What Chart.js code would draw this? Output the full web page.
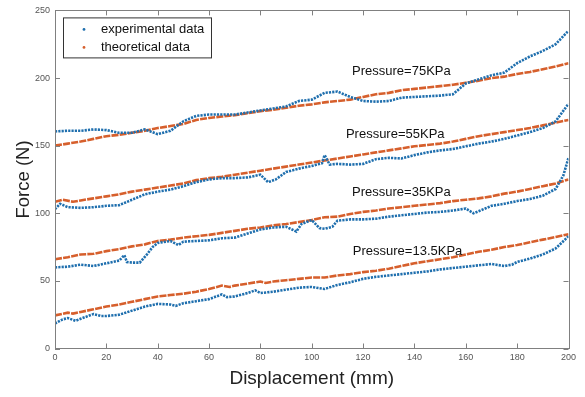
<!DOCTYPE html>
<html>
<head>
<meta charset="utf-8">
<script src="https://cdn.jsdelivr.net/npm/chart.js@4.4.1/dist/chart.umd.min.js"></script>
<style>
  html, body { margin: 0; padding: 0; background: #fff; }
  #wrap { width: 585px; height: 397px; }
</style>
</head>
<body>
<div id="wrap"><canvas id="chart" width="585" height="397"></canvas></div>
<script>
// axis ticks
const xTicks = [0, 20, 40, 60, 80, 100, 120, 140, 160, 180, 200];
const yTicks = [0, 50, 100, 150, 200, 250];

// series: [displacement mm, force N]
const exp75 = [[0,160.5],[5,161],[10,161],[15,162],[20,161.5],[25,159.5],[30,159.5],[35,162],[40,158.5],[45,161],[50,168],[55,172],[60,173],[65,173],[70,173],[75,174.5],[80,176],[85,177.5],[90,179],[95,183],[100,184],[105,189],[110,190],[115,186],[120,183],[125,182.5],[130,183],[135,185.5],[140,186],[145,186.5],[150,187],[155,188],[160,196],[165,199],[170,202],[175,204],[180,211],[185,216],[190,220],[195,225],[200,235]];
const theo75 = [[0,150],[5,151.5],[10,153],[15,155],[20,157],[25,158],[30,159.5],[35,161],[40,163],[45,164.5],[50,166],[55,169],[60,170.5],[65,171.5],[70,172.5],[75,174],[80,175.5],[85,176.5],[90,178],[95,179.5],[100,180.5],[105,182],[110,183],[115,184],[120,186],[125,188],[130,189],[135,191],[140,192],[145,193],[150,194],[155,195],[160,196.5],[165,198],[170,200],[175,201],[180,203],[185,204.5],[190,206.5],[195,208.5],[200,211]];
const exp55 = [[0,103],[2,107],[5,104.5],[10,104],[15,104.5],[20,105.5],[25,106],[30,110],[35,114],[40,116],[45,117.5],[50,120],[55,123],[60,125],[65,126],[70,126],[75,126.5],[80,128.5],[83,123],[86,125],[90,130.5],[95,133],[100,135],[104,137],[105,143],[107,136],[110,136.5],[115,136],[120,136.5],[125,140],[130,141],[135,140.5],[140,143],[145,145],[150,146.5],[155,147.5],[160,149.5],[165,151.5],[170,153],[175,155],[180,157.5],[185,160],[190,163],[195,168],[200,181]];
const theo55 = [[0,108.5],[3,110],[7,108.5],[10,109.5],[15,111],[20,112.5],[25,114],[30,116],[35,117.5],[40,119],[45,120.5],[50,122],[55,124.5],[60,126],[65,127],[70,128.5],[75,130],[80,131.5],[85,133],[90,134.5],[95,136],[100,137.5],[105,139],[110,140.5],[115,142],[120,143.5],[125,145],[130,146.5],[135,148],[140,149.5],[145,150.5],[150,151.5],[155,153],[160,155],[165,157],[170,158.5],[175,160],[180,161.5],[185,163],[190,165],[195,167],[200,169]];
const exp35 = [[0,60],[5,60.5],[10,62],[15,61],[20,63],[25,65],[27,69],[28,64],[30,63.5],[33,63.5],[36,70],[38,75],[40,78],[45,79.5],[48,76.5],[50,79],[55,79.5],[60,80],[65,81.5],[70,82],[75,85],[80,88],[85,89.5],[90,90],[94,86.5],[96,92],[100,95],[103,89],[105,88.5],[108,90],[110,94.5],[115,95.5],[120,95.5],[125,96],[130,97.5],[135,98.5],[140,99.5],[145,100.5],[150,101],[155,102],[160,103.5],[163,100],[165,101.5],[170,105.5],[175,107],[180,109],[185,110.5],[190,113],[195,118],[198,128],[200,141]];
const theo35 = [[0,66],[5,67.5],[10,69.5],[15,70],[20,72],[25,73.5],[30,75.5],[35,77],[40,79.5],[45,80.5],[50,82],[55,83],[60,84],[65,85.5],[70,87],[75,88.5],[80,89.5],[85,91],[90,92],[95,93.5],[100,95],[105,97],[110,97.5],[115,99.5],[120,101],[125,102],[130,103.5],[135,104.5],[140,105.5],[145,106.5],[150,107.5],[155,109],[160,110],[165,111],[170,112.5],[175,114.5],[180,116],[185,118],[190,120],[195,122],[200,125]];
const exp13 = [[0,18.5],[3,21.5],[5,22.5],[8,20.5],[10,22],[15,25.5],[18,24],[20,24],[25,25],[30,28],[35,31],[40,33],[45,32.5],[47,31.5],[50,33.5],[55,35],[60,36.5],[65,40],[67,38],[70,38.5],[75,41],[78,43],[80,41],[85,42],[90,43.5],[95,45],[100,45.5],[105,44],[110,47],[115,49],[120,51.5],[125,53],[130,54],[135,55],[140,56],[145,57],[150,58.5],[155,59.5],[160,60.5],[165,61.5],[170,62.5],[175,61],[178,62],[180,64],[185,66.5],[190,69.5],[195,74],[200,83]];
const theo13 = [[0,24.5],[5,26.5],[7,25.8],[10,27],[15,29],[20,31],[25,32.5],[30,34.5],[35,36.5],[40,38.5],[45,39.5],[50,40.5],[55,42],[60,44],[65,46.5],[68,45.5],[70,46.5],[75,48],[80,49.5],[82,48.5],[85,49.5],[90,50.5],[95,51.5],[100,52.5],[105,52.5],[110,54],[115,55],[120,56.5],[125,57.5],[130,59],[135,61],[140,63],[145,64.5],[150,66],[155,67.5],[160,69.5],[165,71.5],[170,73],[175,75],[180,76.5],[185,78.5],[190,80.5],[195,82.5],[200,84.5]];

const pressureLabels = ["Pressure=75KPa", "Pressure=55KPa", "Pressure=35KPa", "Pressure=13.5KPa"];
const labelX = [115.7, 113.3, 115.7, 116];
const labelY = [204.6, 158.5, 115.5, 72.1];

const BLUE = "#1f6fae";
const ORANGE = "#d65f2c";
const FONT = "'Liberation Sans', Arial, Helvetica, sans-serif";

function toPts(arr) { return arr.map(p => ({ x: p[0], y: p[1] })); }

function expSet(arr, first) {
  return {
    label: first ? "experimental data" : "",
    data: toPts(arr), showLine: true, borderColor: BLUE, backgroundColor: BLUE,
    borderWidth: 2.6, borderDash: [2.2, 1.1], pointRadius: 0, tension: 0
  };
}
function theoSet(arr, first) {
  return {
    label: first ? "theoretical data" : "",
    data: toPts(arr), showLine: true, borderColor: ORANGE, backgroundColor: ORANGE,
    borderWidth: 2.6, borderDash: [7, 1.2], pointRadius: 0, tension: 0
  };
}

const boxPlugin = {
  id: "box",
  afterDatasetsDraw(chart) {
    const { ctx, chartArea: a, scales: { x, y } } = chart;
    ctx.save();
    // frame with inward ticks on all sides
    ctx.strokeStyle = "#808080";
    ctx.lineWidth = 1;
    ctx.strokeRect(Math.round(a.left) + 0.5, Math.round(a.top) + 0.5,
      Math.round(a.right - a.left), Math.round(a.bottom - a.top));
    ctx.beginPath();
    xTicks.forEach(v => {
      const px = Math.round(x.getPixelForValue(v)) + 0.5;
      ctx.moveTo(px, a.bottom); ctx.lineTo(px, a.bottom - 5);
      ctx.moveTo(px, a.top); ctx.lineTo(px, a.top + 5);
    });
    yTicks.forEach(v => {
      const py = Math.round(y.getPixelForValue(v)) + 0.5;
      ctx.moveTo(a.left, py); ctx.lineTo(a.left + 5, py);
      ctx.moveTo(a.right, py); ctx.lineTo(a.right - 5, py);
    });
    ctx.stroke();

    // pressure labels
    ctx.fillStyle = "#111";
    ctx.font = "13px " + FONT;
    ctx.textBaseline = "middle";
    ctx.textAlign = "left";
    pressureLabels.forEach((t, i) => {
      ctx.fillText(t, x.getPixelForValue(labelX[i]), y.getPixelForValue(labelY[i]));
    });

    // legend box
    const lx = a.left + 8, ly = a.top + 7, lw = 148, lh = 40;
    ctx.fillStyle = "#fff";
    ctx.fillRect(lx, ly, lw, lh);
    ctx.strokeStyle = "#333";
    ctx.strokeRect(lx + 0.5, ly + 0.5, lw, lh);
    const items = [["experimental data", BLUE], ["theoretical data", ORANGE]];
    items.forEach((it, i) => {
      const cy = ly + 12 + i * 18;
      ctx.fillStyle = it[1];
      ctx.beginPath();
      ctx.arc(lx + 21, cy, 1.4, 0, Math.PI * 2);
      ctx.fill();
      ctx.fillStyle = "#111";
      ctx.fillText(it[0], lx + 38, cy);
    });
    ctx.restore();
  }
};

new Chart(document.getElementById("chart"), {
  type: "scatter",
  data: {
    datasets: [
      expSet(exp75, true), theoSet(theo75, true),
      expSet(exp55), theoSet(theo55),
      expSet(exp35), theoSet(theo35),
      expSet(exp13), theoSet(theo13)
    ]
  },
  options: {
    responsive: false,
    animation: false,
    layout: { padding: { top: 6.5, right: 16.5, left: 0, bottom: 0 } },
    plugins: { legend: { display: false }, tooltip: { enabled: false } },
    scales: {
      x: {
        type: "linear", min: 0, max: 200,
        afterBuildTicks: s => { s.ticks = xTicks.map(v => ({ value: v })); },
        afterFit: s => { s.height = 48.5; },
        grid: { display: false, drawTicks: false },
        border: { display: false },
        ticks: { padding: 4, color: "#555", font: { family: FONT, size: 9 } },
        title: { display: true, text: "Displacement (mm)", color: "#222",
          font: { family: FONT, size: 19 }, padding: { top: 0, bottom: 7 } }
      },
      y: {
        type: "linear", min: 0, max: 250,
        afterBuildTicks: s => { s.ticks = yTicks.map(v => ({ value: v })); },
        afterFit: s => { s.width = 55; },
        grid: { display: false, drawTicks: false },
        border: { display: false },
        ticks: { padding: 5, color: "#555", font: { family: FONT, size: 9 } },
        title: { display: true, text: "Force (N)", color: "#222",
          font: { family: FONT, size: 18.5 }, padding: { top: 13, bottom: 0 } }
      }
    }
  },
  plugins: [boxPlugin]
});
</script>
</body>
</html>
